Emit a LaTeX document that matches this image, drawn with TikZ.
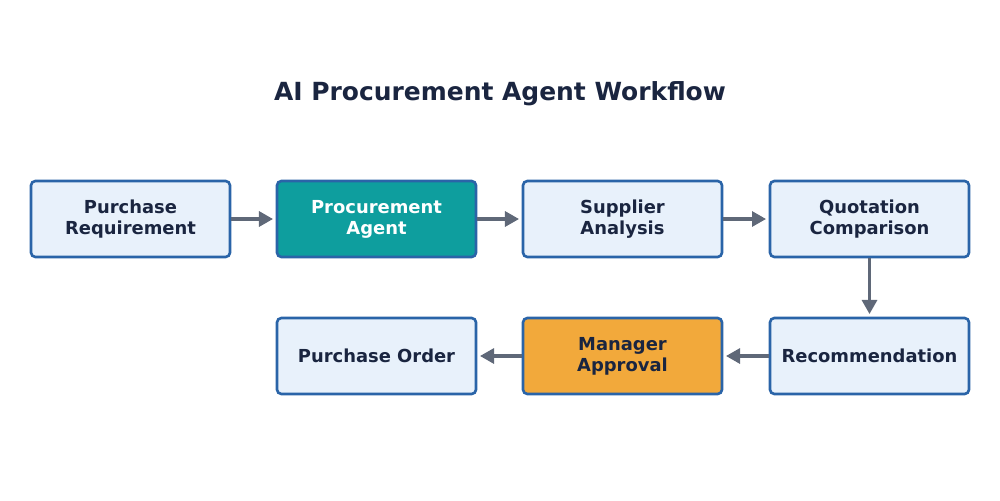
\documentclass[tikz,border=0pt]{standalone}
\usepackage{fontspec}
\setmainfont{DejaVu Sans}
\usetikzlibrary{arrows.meta}
\definecolor{boxfill}{HTML}{E8F1FB}
\definecolor{boxline}{HTML}{2A64A8}
\definecolor{txt}{HTML}{1A2540}
\definecolor{teal}{HTML}{0E9E9E}
\definecolor{orng}{HTML}{F2A93B}
\definecolor{arr}{HTML}{5F6878}
\begin{document}
\begin{tikzpicture}[x=0.02cm,y=-0.02cm,
  stepbox/.style={draw=boxline,line width=1.5pt,fill=boxfill,rounded corners=2.5pt,
    minimum width=199*0.02cm,minimum height=76*0.02cm,inner sep=0pt,
    align=center,font=\bfseries\fontsize{10.2}{12}\selectfont,text=txt},
  flow/.style={draw=arr,line width=1.8pt,-{Triangle[length=8pt,width=8.5pt]},shorten >=1.5pt}]
\useasboundingbox (0,0) rectangle (1000,500);
\node[font=\bfseries\fontsize{14.2}{17}\selectfont,text=txt] (title) at (500,94) {AI Procurement Agent Workflow};
\node[stepbox] (a) at (130.5,219) {Purchase\\Requirement};
\node[stepbox,fill=teal,text=white] (b) at (376.5,219) {Procurement\\Agent};
\node[stepbox] (c) at (622.5,219) {Supplier\\Analysis};
\node[stepbox] (d) at (869.5,219) {Quotation\\Comparison};
\node[stepbox] (e) at (869.5,356) {Recommendation};
\node[stepbox,fill=orng] (f) at (622.5,356) {Manager\\Approval};
\node[stepbox] (g) at (376.5,356) {Purchase Order};
\draw[flow] (a) -- (b);
\draw[flow] (b) -- (c);
\draw[flow] (c) -- (d);
\draw[flow] (d) -- (e);
\draw[flow] (e) -- (f);
\draw[flow] (f) -- (g);
\end{tikzpicture}
\end{document}
